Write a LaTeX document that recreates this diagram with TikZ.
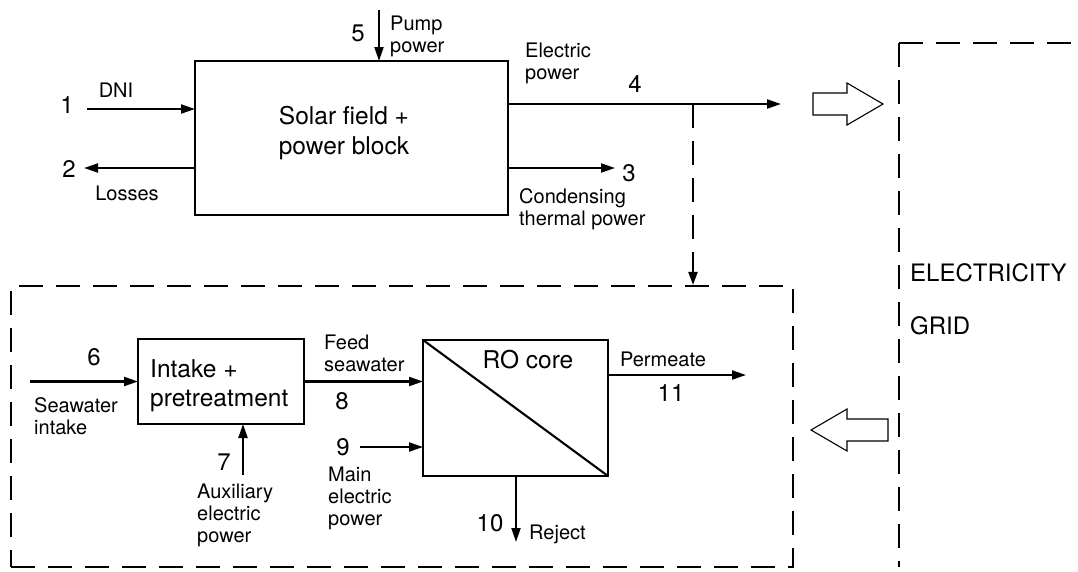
\documentclass[tikz,border=0pt]{standalone}
\usepackage{fontspec}
\setmainfont{TeX Gyre Heros}
\usetikzlibrary{arrows.meta}
\begin{document}
\begin{tikzpicture}[x=1pt,y=-1pt,
  box/.style={draw, line width=2.1pt, inner sep=0pt, outer sep=0pt},
  flow/.style={line width=2.1pt, -{Triangle[length=14pt,width=9pt]}},
  bound/.style={line width=2.1pt, dash pattern=on 24pt off 13pt},
  hollow/.style={line width=1.1pt},
  num/.style={font=\fontsize{24}{24}\selectfont, inner sep=0pt, anchor=base},
  lab/.style={font=\fontsize{20}{22}\selectfont, inner sep=0pt, align=left, anchor=north west},
  labone/.style={font=\fontsize{20}{22}\selectfont, inner sep=0pt, anchor=base},
  big/.style={font=\fontsize{24.5}{30}\selectfont, inner sep=0pt}]
\useasboundingbox (0,0) rectangle (1078,571);

% ---- solar field + power block
\node[box, minimum width=313pt, minimum height=154pt] (solar) at (351.5,138) {};
\node[big, align=center, anchor=north] (solartxt) at (344,106) {Solar field +\\power block};

\coordinate (in1) at (87,109);
\draw[flow] (in1) -- (in1 -| solar.west);
\coordinate (out2) at (84,168);
\draw[flow] (out2 -| solar.west) -- (out2);
\coordinate (out3) at (615,168);
\draw[flow] (out3 -| solar.east) -- (out3);
\coordinate (out4) at (781,104);
\draw[flow] (out4 -| solar.east) -- (out4);
\coordinate (in5) at (379,10);
\draw[flow] (in5) -- (in5 |- solar.north);

\node[num] (n1) at (67,113.5) {1};
\node[num] (n2) at (69,177.5) {2};
\node[num] (n3) at (629,181.5) {3};
\node[num] (n4) at (635,92.5) {4};
\node[num] (n5) at (358,41.5) {5};

\node[labone] (dni) at (116,97) {DNI};
\node[labone] (loss) at (127,200) {Losses};
\node[lab] (pump) at (390,16) {Pump\\power};
\node[lab] (elec) at (525,43) {Electric\\power};
\node[lab] (cond) at (519,188) {Condensing\\thermal power};

% ---- desalination plant boundary
\node[draw, bound, minimum width=782pt, minimum height=281pt, inner sep=0pt] (lower) at (402,426.5) {};
\coordinate (split) at (693,104);
\draw[bound, -{Triangle[length=13pt,width=9pt]}] (split) -- (split |- lower.north);

% ---- intake + pretreatment
\node[box, minimum width=166pt, minimum height=85pt] (intake) at (221,381.5) {};
\node[big, font=\fontsize{24.5}{29}\selectfont, align=left, anchor=north west] (intaketxt) at (150,359) {Intake +\\pretreatment};

% ---- RO core
\node[box, minimum width=185pt, minimum height=136pt] (ro) at (515.5,408) {};
\draw[line width=2.1pt] (ro.north west) -- (ro.south east);
\node[big, anchor=base] (rotxt) at (528,368) {RO core};

\coordinate (in6) at (30,381.5);
\draw[flow] (in6) -- (intake.west);
\draw[flow] (intake.east) -- (intake.east -| ro.west);
\coordinate (in7) at (243,475);
\draw[flow] (in7) -- (in7 |- intake.south);
\coordinate (in9) at (360,447);
\draw[flow] (in9) -- (in9 -| ro.west);
\coordinate (out10) at (516,542);
\draw[flow] (out10 |- ro.south) -- (out10);
\coordinate (out11) at (746,375);
\draw[flow] (out11 -| ro.east) -- (out11);

\node[num] (n6) at (94,365.5) {6};
\node[num] (n7) at (224,470.5) {7};
\node[num] (n8) at (342,409.5) {8};
\node[num] (n9) at (343,455.5) {9};
\node[num] (n10) at (490,531.5) {10};
\node[num] (n11) at (671,401.5) {11};

\node[lab] (sea) at (34,397) {Seawater\\intake};
\node[lab] (aux) at (197,484) {Auxiliary\\electric\\power};
\node[lab] (feed) at (324,335) {Feed\\seawater};
\node[lab] (main) at (328,467) {Main\\electric\\power};
\node[labone] (perm) at (663,366) {Permeate};
\node[labone, anchor=base west] (rej) at (529,539) {Reject};

% ---- electricity grid
\coordinate (gc) at (899,43);
\draw[bound] (gc) -- (1078,43);
\draw[bound] (gc) -- (899,567);
\node[font=\fontsize{24}{53}\selectfont, align=left, anchor=north west, inner sep=0pt] (grid) at (910,263.5) {ELECTRICITY\\GRID};

% ---- hollow exchange arrows
\draw[hollow] (813,93) -- (847,93) -- (847,83) -- (883,104) -- (847,125) -- (847,115) -- (813,115) -- cycle;
\draw[hollow] (888,419) -- (847,419) -- (847,409) -- (811,430) -- (847,451) -- (847,441) -- (888,441) -- cycle;
\end{tikzpicture}
\end{document}
